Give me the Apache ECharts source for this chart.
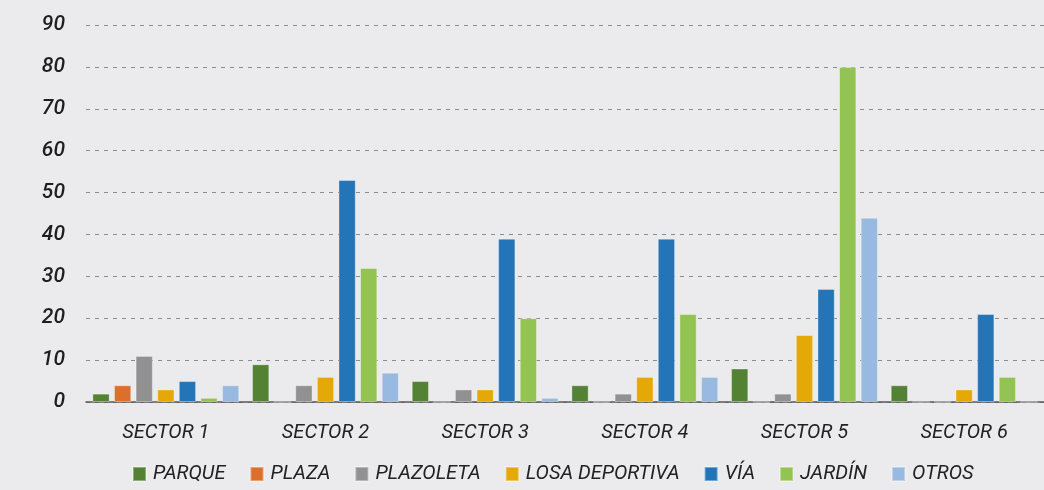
<!DOCTYPE html>
<html>
<head>
<meta charset="utf-8">
<script src="https://cdn.jsdelivr.net/npm/echarts@6/dist/echarts.min.js"></script>
<style>
  html, body { margin: 0; padding: 0; background: #ebebed; }
  #chart { width: 1044px; height: 490px; }
</style>
</head>
<body>
<div id="chart"></div>
<script>
  const sectors = ['SECTOR 1', 'SECTOR 2', 'SECTOR 3', 'SECTOR 4', 'SECTOR 5', 'SECTOR 6']
  const parque = [2, 9, 5, 4, 8, 4]
  const plaza = [4, 0, 0, 0, 0, 0]
  const plazoleta = [11, 4, 3, 2, 2, 0]
  const losaDeportiva = [3, 6, 3, 6, 16, 3]
  const via = [5, 53, 39, 39, 27, 21]
  const jardin = [1, 32, 20, 21, 80, 6]
  const otros = [4, 7, 1, 6, 44, 0]

  const seriesNames = ['PARQUE', 'PLAZA', 'PLAZOLETA', 'LOSA DEPORTIVA', 'VÍA', 'JARDÍN', 'OTROS']
  const seriesData = [parque, plaza, plazoleta, losaDeportiva, via, jardin, otros]
  const color = ['#548235', '#dc6f2b', '#919191', '#e4a906', '#2475b8', '#93c352', '#99bae0']

  const font = 'Roboto, "DejaVu Sans", sans-serif'

  const series = seriesNames.map((name, i) => ({
    name: name,
    type: 'bar',
    data: seriesData[i],
    barGap: '25%',
    barCategoryGap: '8%',
    itemStyle: {
      color: color[i],
      borderColor: 'rgba(255,255,255,0.35)',
      borderWidth: 1,
    },
  }))

  const chart = echarts.init(document.getElementById('chart'))
  chart.setOption({
    backgroundColor: '#ebebed',
    animation: false,
    color,
    grid: {
      left: 86,
      right: -6,
      top: 25,
      bottom: 88,
      containLabel: false,
    },
    legend: {
      data: seriesNames,
      left: 127,
      top: 459,
      icon: 'rect',
      itemWidth: 13,
      itemHeight: 14,
      itemGap: 24,
      textStyle: {
        fontFamily: font,
        fontStyle: 'italic',
        fontSize: 20,
        color: '#222',
        padding: [0, 0, 0, 2],
      },
    },
    xAxis: {
      type: 'category',
      data: sectors,
      axisTick: { show: false },
      axisLine: {
        lineStyle: { color: '#595959', width: 1.5 },
      },
      axisLabel: {
        fontFamily: font,
        fontStyle: 'italic',
        fontSize: 20,
        color: '#222',
        margin: 21,
      },
    },
    yAxis: {
      type: 'value',
      min: 0,
      max: 90,
      interval: 10,
      axisLine: { show: false },
      axisTick: { show: false },
      axisLabel: {
        fontFamily: font,
        fontStyle: 'italic',
        fontWeight: 500,
        fontSize: 21,
        color: '#1e1e1e',
        margin: 21,
      },
      splitLine: {
        lineStyle: {
          color: '#8c8c8c',
          type: [4, 5],
          width: 1,
        },
      },
    },
    series,
  })
</script>
</body>
</html>
